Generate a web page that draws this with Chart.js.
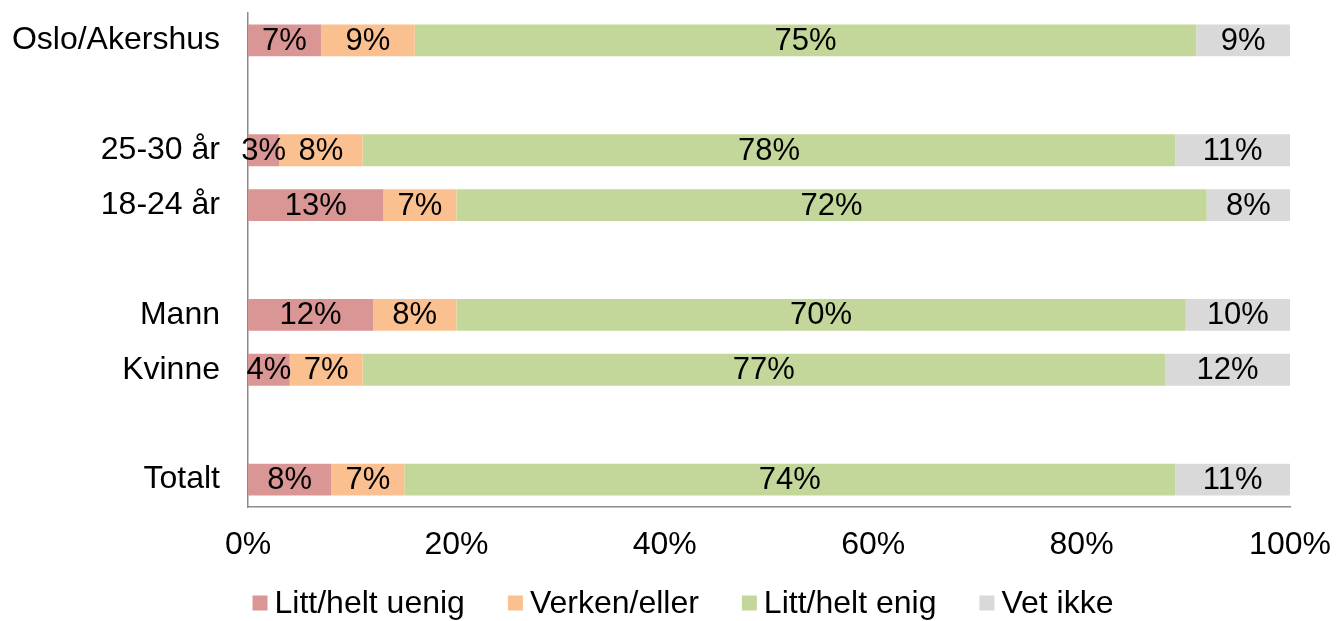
<!DOCTYPE html>
<html lang="no">
<head>
    <meta charset="UTF-8">
    <title>Enighet etter gruppe</title>
    <script src="https://cdn.jsdelivr.net/npm/chart.js"></script>
    <style>
        html, body {
            margin: 0;
            padding: 0;
            background: #ffffff;
        }
        .chart-container {
            width: 1336px;
            height: 621px;
        }
    </style>
</head>
<body>

    <div class="chart-container">
        <canvas id="surveyChart"></canvas>
    </div>

    <script>
        // Groups, top to bottom (empty strings are the spacer rows)
        const groups = ['Oslo/Akershus', '', '25-30 år', '18-24 år', '', 'Mann', 'Kvinne', '', 'Totalt'];

        const seriesNames = ['Litt/helt uenig', 'Verken/eller', 'Litt/helt enig', 'Vet ikke'];
        const seriesColors = ['#d99694', '#fac090', '#c4d79b', '#d9d9d9'];

        // Percent values per group
        const uenig   = [7, null, 3, 13, null, 12, 4, null, 8];
        const verken  = [9, null, 8, 7, null, 8, 7, null, 7];
        const enig    = [75, null, 78, 72, null, 70, 77, null, 74];
        const vetIkke = [9, null, 11, 8, null, 10, 12, null, 11];

        const xTicks = [0, 20, 40, 60, 80, 100];

        const fontFamily = '"Liberation Sans", Arial, sans-serif';
        const axisGray = '#8c8c8c';

        // Draws the percent label in the middle of each bar segment
        const segmentLabels = {
            id: 'segmentLabels',
            afterDatasetsDraw(chart) {
                const ctx = chart.ctx;
                ctx.save();
                ctx.font = '31px ' + fontFamily;
                ctx.fillStyle = '#000000';
                ctx.textAlign = 'center';
                ctx.textBaseline = 'middle';
                chart.data.datasets.forEach((ds, i) => {
                    chart.getDatasetMeta(i).data.forEach((bar, j) => {
                        const v = ds.data[j];
                        if (v === null || v === undefined) return;
                        const cx = (bar.x + bar.base) / 2;
                        ctx.fillText(Math.round(v) + '%', cx, bar.y + 1);
                    });
                });
                ctx.restore();
            }
        };

        // Simple legend row under the x axis (Excel style: small square, tight gap)
        const bottomLegend = {
            id: 'bottomLegend',
            afterDraw(chart) {
                const ctx = chart.ctx;
                const box = 15, gap = 7, itemGap = 43;
                const centerX = 683, centerY = 603;
                ctx.save();
                ctx.font = '32px ' + fontFamily;
                ctx.textBaseline = 'middle';
                const items = chart.data.datasets.map(ds => ({
                    text: ds.label,
                    color: ds.backgroundColor,
                    w: box + gap + ctx.measureText(ds.label).width
                }));
                const total = items.reduce((s, it) => s + it.w, 0) + itemGap * (items.length - 1);
                let x = centerX - total / 2;
                items.forEach(it => {
                    ctx.fillStyle = it.color;
                    ctx.fillRect(x, centerY - box / 2, box, box);
                    ctx.fillStyle = '#000000';
                    ctx.fillText(it.text, x + box + gap, centerY + 1);
                    x += it.w + itemGap;
                });
                ctx.restore();
            }
        };

        const allSeries = [uenig, verken, enig, vetIkke];

        const surveyChart = new Chart(document.getElementById('surveyChart').getContext('2d'), {
            type: 'bar',
            data: {
                labels: groups,
                datasets: allSeries.map((values, i) => ({
                    label: seriesNames[i],
                    data: values,
                    backgroundColor: seriesColors[i],
                    borderWidth: 0,
                    categoryPercentage: 1.0,
                    barPercentage: 0.58
                }))
            },
            options: {
                indexAxis: 'y',
                responsive: true,
                maintainAspectRatio: false,
                animation: false,
                layout: {
                    padding: { top: 13, right: 46, left: 0, bottom: 58 }
                },
                plugins: {
                    legend: { display: false },
                    tooltip: { enabled: false }
                },
                scales: {
                    x: {
                        stacked: true,
                        min: 0,
                        max: 100,
                        afterBuildTicks(scale) {
                            scale.ticks = xTicks.map(v => ({ value: v }));
                        },
                        afterFit(scale) {
                            scale.height = 56;
                            scale.paddingLeft = 0;
                            scale.paddingRight = 0;
                        },
                        grid: { display: false, drawTicks: false },
                        border: { display: true, color: axisGray, width: 1.5 },
                        ticks: {
                            color: '#000000',
                            font: { family: fontFamily, size: 32 },
                            padding: 19,
                            maxRotation: 0,
                            callback: v => v + '%'
                        }
                    },
                    y: {
                        stacked: true,
                        afterFit(scale) {
                            scale.width = 248;
                            scale.paddingTop = 0;
                            scale.paddingBottom = 0;
                        },
                        grid: { display: false, drawTicks: false },
                        border: { display: true, color: axisGray, width: 1.5 },
                        ticks: {
                            color: '#000000',
                            font: { family: fontFamily, size: 32 },
                            padding: 28,
                            autoSkip: false
                        }
                    }
                }
            },
            plugins: [segmentLabels, bottomLegend]
        });
    </script>

</body>
</html>
